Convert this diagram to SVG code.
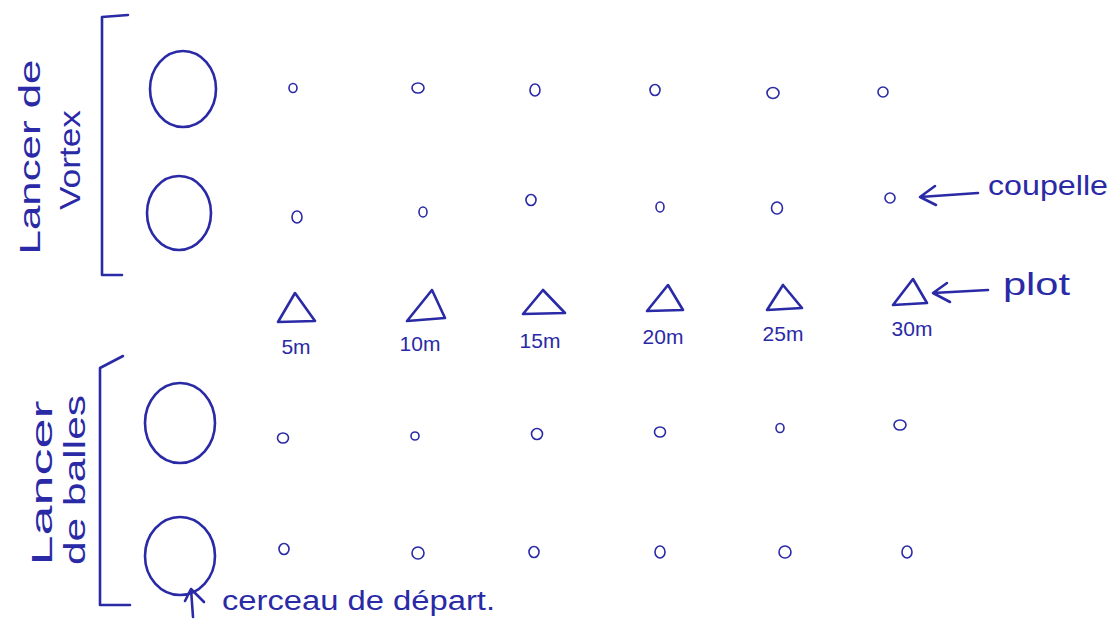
<svg xmlns="http://www.w3.org/2000/svg" width="1110" height="620" viewBox="0 0 1110 620">
<style>
.ink{fill:none;stroke:#2a2aa6;stroke-width:2.6;stroke-linecap:round;stroke-linejoin:round}
.cup{fill:none;stroke:#2a2aa6;stroke-width:1.6}
.txt{font-family:"Liberation Sans",Arial,sans-serif;fill:#2a2aa6}
.dist{font-size:21px;text-anchor:middle}
.lbl{font-size:30px;text-anchor:middle}
</style>
<rect width="1110" height="620" fill="#ffffff"/>

<g id="group-vortex">
  <path class="ink" d="M128,15 L102,17 L102,275 L122,275"/>
  <text class="txt lbl" transform="translate(40,157) rotate(-90)" textLength="195" lengthAdjust="spacingAndGlyphs">Lancer de</text>
  <text class="txt lbl" transform="translate(80,160) rotate(-90)" textLength="100" lengthAdjust="spacingAndGlyphs">Vortex</text>
</g>
<g id="group-balles">
  <path class="ink" d="M123,356 L100,368 L100,605 L130,605"/>
  <text class="txt lbl" transform="translate(52,483) rotate(-90)" textLength="165" lengthAdjust="spacingAndGlyphs">Lancer</text>
  <text class="txt lbl" transform="translate(85,480) rotate(-90)" textLength="170" lengthAdjust="spacingAndGlyphs">de balles</text>
</g>

<g id="hoop-1"><ellipse class="ink" cx="183" cy="89" rx="33" ry="38"/></g>
<g id="hoop-2"><ellipse class="ink" cx="179" cy="213" rx="32" ry="37"/></g>
<g id="hoop-3"><ellipse class="ink" cx="180" cy="423" rx="35" ry="40"/></g>
<g id="hoop-4"><ellipse class="ink" cx="180" cy="556" rx="35" ry="39"/></g>

<g id="cups-row-1">
  <ellipse class="cup" cx="293" cy="88" rx="4" ry="4.5"/>
  <ellipse class="cup" cx="418" cy="88" rx="6" ry="5"/>
  <ellipse class="cup" cx="535" cy="90" rx="5" ry="6"/>
  <ellipse class="cup" cx="655" cy="90" rx="5" ry="5.5"/>
  <ellipse class="cup" cx="773" cy="93" rx="6" ry="5.5"/>
  <ellipse class="cup" cx="883" cy="92" rx="5" ry="5"/>
</g>
<g id="cups-row-2">
  <ellipse class="cup" cx="297" cy="217" rx="5" ry="6"/>
  <ellipse class="cup" cx="423" cy="212" rx="4" ry="5"/>
  <ellipse class="cup" cx="531" cy="200" rx="5" ry="5.5"/>
  <ellipse class="cup" cx="660" cy="207" rx="4" ry="5"/>
  <ellipse class="cup" cx="777" cy="208" rx="5.5" ry="6"/>
  <ellipse class="cup" cx="890" cy="198" rx="5" ry="5"/>
</g>
<g id="cups-row-3">
  <ellipse class="cup" cx="283" cy="438" rx="5.5" ry="5"/>
  <ellipse class="cup" cx="415" cy="436" rx="4" ry="4"/>
  <ellipse class="cup" cx="537" cy="434" rx="5.5" ry="5.5"/>
  <ellipse class="cup" cx="660" cy="432" rx="5.5" ry="5"/>
  <ellipse class="cup" cx="780" cy="428" rx="4" ry="4.5"/>
  <ellipse class="cup" cx="900" cy="425" rx="6" ry="5"/>
</g>
<g id="cups-row-4">
  <ellipse class="cup" cx="284" cy="549" rx="5" ry="5.5"/>
  <ellipse class="cup" cx="418" cy="553" rx="6" ry="6"/>
  <ellipse class="cup" cx="534" cy="552" rx="5" ry="5.5"/>
  <ellipse class="cup" cx="660" cy="552" rx="5" ry="6"/>
  <ellipse class="cup" cx="785" cy="552" rx="6" ry="6"/>
  <ellipse class="cup" cx="907" cy="552" rx="5" ry="6"/>
</g>

<g id="plot-5m">
  <polygon class="ink" points="295,293 278,322 315,321"/>
  <text class="txt dist" x="296" y="354">5m</text>
</g>
<g id="plot-10m">
  <polygon class="ink" points="432,290 407,321 445,318"/>
  <text class="txt dist" x="420" y="351">10m</text>
</g>
<g id="plot-15m">
  <polygon class="ink" points="543,290 523,314 565,313"/>
  <text class="txt dist" x="540" y="348">15m</text>
</g>
<g id="plot-20m">
  <polygon class="ink" points="668,285 647,311 683,310"/>
  <text class="txt dist" x="663" y="344">20m</text>
</g>
<g id="plot-25m">
  <polygon class="ink" points="783,285 767,310 802,308"/>
  <text class="txt dist" x="783" y="341">25m</text>
</g>
<g id="plot-30m">
  <polygon class="ink" points="913,279 893,305 927,303"/>
  <text class="txt dist" x="912" y="336">30m</text>
</g>

<g id="label-coupelle">
  <text class="txt" x="988" y="195" font-size="28" textLength="120" lengthAdjust="spacingAndGlyphs">coupelle</text>
</g>
<g id="label-plot">
  <text class="txt" x="1003" y="295" font-size="32" textLength="67" lengthAdjust="spacingAndGlyphs">plot</text>
</g>
<g id="label-cerceau">
  <text class="txt" x="222" y="610" font-size="27" textLength="273" lengthAdjust="spacingAndGlyphs">cerceau de départ.</text>
</g>

<g id="connectors">
  <path class="ink" d="M978,193 L920,197 M935,186 L920,197 L936,205"/>
  <path class="ink" d="M988,290 L933,293 M947,283 L933,293 L950,302"/>
  <path class="ink" d="M193,617 L191,589 M185,601 L191,589 L204,602"/>
</g>
</svg>
